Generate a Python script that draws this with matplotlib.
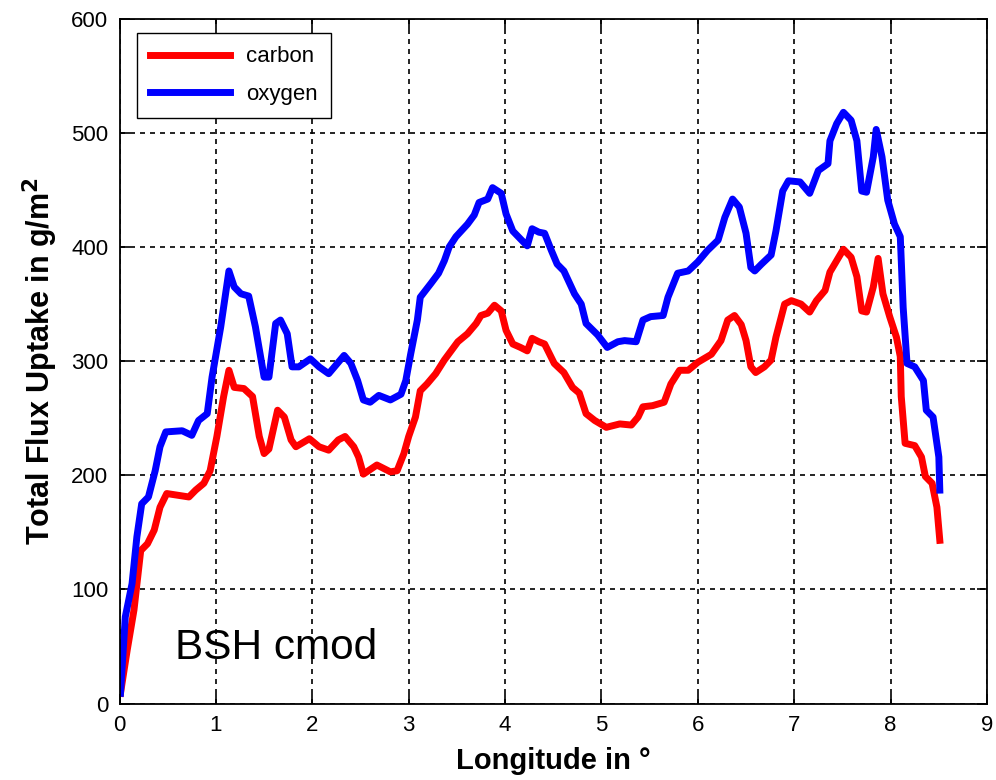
import matplotlib
matplotlib.use("Agg")
import matplotlib.pyplot as plt

plt.rcParams["font.family"] = ["Liberation Sans", "DejaVu Sans"]

# flux uptake along the profile, g/m^2 vs longitude in degrees
carbon_lon = [0.01, 0.08, 0.15, 0.22, 0.29, 0.36, 0.42, 0.49, 0.72, 0.79, 0.875, 0.94,
              1.01, 1.08, 1.135, 1.19, 1.29, 1.38, 1.45, 1.50, 1.55, 1.64, 1.71, 1.78,
              1.83, 1.97, 2.07, 2.17, 2.27, 2.34, 2.43, 2.48, 2.53, 2.67, 2.81, 2.88,
              2.95, 3.00, 3.07, 3.12, 3.19, 3.28, 3.37, 3.44, 3.51, 3.61, 3.70, 3.75,
              3.82, 3.89, 3.96, 4.01, 4.08, 4.16, 4.23, 4.28, 4.35, 4.41, 4.51, 4.61,
              4.70, 4.77, 4.84, 4.93, 5.05, 5.19, 5.31, 5.38, 5.43, 5.53, 5.65, 5.72,
              5.81, 5.90, 6.00, 6.14, 6.24, 6.31, 6.38, 6.45, 6.50, 6.55, 6.60, 6.69,
              6.76, 6.81, 6.90, 6.97, 7.07, 7.16, 7.23, 7.32, 7.37, 7.44, 7.51, 7.59,
              7.65, 7.70, 7.75, 7.82, 7.87, 7.92, 7.99, 8.06, 8.10, 8.11, 8.15, 8.25,
              8.32, 8.36, 8.43, 8.48, 8.51]
carbon_flux = [9, 47, 82, 134, 140, 152, 172, 184, 181, 187, 193, 204,
               234, 269, 292, 277, 276, 269, 234, 219, 223, 257, 251, 231,
               225, 232, 225, 222, 231, 234, 225, 216, 201, 209, 203, 204,
               219, 234, 251, 274, 280, 289, 301, 309, 317, 324, 333, 340,
               342, 349, 344, 327, 315, 312, 309, 320, 317, 315, 298, 290,
               277, 272, 254, 248, 242, 245, 244, 251, 260, 261, 264, 280,
               292, 292, 299, 306, 318, 336, 340, 332, 318, 295, 290, 295,
               301, 321, 350, 353, 350, 343, 353, 362, 378, 388, 398, 391,
               374, 344, 343, 365, 390, 359, 339, 321, 304, 269, 228, 226,
               216, 199, 193, 172, 143]

oxygen_lon = [0.01, 0.06, 0.13, 0.18, 0.23, 0.30, 0.37, 0.42, 0.48, 0.65, 0.75, 0.82,
              0.91, 0.96, 1.05, 1.135, 1.19, 1.26, 1.34, 1.41, 1.50, 1.55, 1.62, 1.67,
              1.74, 1.79, 1.86, 1.98, 2.07, 2.17, 2.26, 2.33, 2.40, 2.47, 2.53, 2.60,
              2.69, 2.81, 2.92, 2.97, 3.02, 3.09, 3.12, 3.23, 3.31, 3.37, 3.42, 3.49,
              3.61, 3.68, 3.73, 3.82, 3.87, 3.96, 4.01, 4.08, 4.16, 4.23, 4.28, 4.35,
              4.41, 4.48, 4.54, 4.61, 4.72, 4.79, 4.84, 4.96, 5.06, 5.17, 5.24, 5.36,
              5.43, 5.51, 5.64, 5.69, 5.79, 5.90, 6.00, 6.10, 6.21, 6.28, 6.36, 6.43,
              6.50, 6.55, 6.59, 6.66, 6.76, 6.81, 6.88, 6.94, 7.06, 7.16, 7.25, 7.35,
              7.37, 7.44, 7.51, 7.59, 7.65, 7.70, 7.75, 7.82, 7.85, 7.91, 7.97, 8.04,
              8.10, 8.13, 8.17, 8.25, 8.34, 8.37, 8.44, 8.50, 8.51]
oxygen_flux = [9, 76, 105, 146, 175, 181, 204, 225, 238, 239, 235, 248,
               254, 286, 330, 379, 365, 359, 357, 330, 286, 286, 333, 336,
               324, 295, 295, 302, 295, 289, 298, 305, 298, 283, 266, 264,
               270, 266, 271, 283, 306, 336, 356, 368, 377, 388, 400, 409,
               420, 428, 439, 442, 452, 447, 429, 414, 407, 401, 416, 413,
               412, 397, 385, 379, 359, 350, 333, 323, 312, 317, 318, 317,
               336, 339, 340, 356, 377, 379, 387, 397, 406, 426, 442, 435,
               412, 382, 379, 385, 393, 414, 449, 458, 457, 447, 467, 473,
               493, 508, 518, 511, 493, 449, 448, 479, 503, 479, 441, 420,
               409, 347, 298, 295, 283, 257, 251, 216, 187]

x_ticks = list(range(0, 10))
y_ticks = list(range(0, 700, 100))

fig = plt.figure(figsize=(9.96, 7.8), dpi=100)
ax = fig.add_axes([0.12, 0.098, 0.871, 0.878])

ax.plot(carbon_lon, carbon_flux, color="#ff0000", lw=5, label="carbon",
        solid_joinstyle="round")
ax.plot(oxygen_lon, oxygen_flux, color="#0000ff", lw=5, label="oxygen",
        solid_joinstyle="round")

ax.set_xlim(0, 9)
ax.set_ylim(0, 600)
ax.set_xticks(x_ticks)
ax.set_yticks(y_ticks)
ax.grid(True, color="black", linestyle=(0, (3, 3)), linewidth=1.2)
ax.tick_params(direction="in", length=7, width=1.2, top=True, right=True,
               labelsize=16, pad=8)
for side in ax.spines.values():
    side.set_linewidth(1.3)

ax.set_xlabel("Longitude in °", fontsize=21, fontweight="bold", labelpad=8)
ax.set_ylabel("Total Flux Uptake in g/m$^\\mathbf{2}$", fontsize=22,
              fontweight="bold", labelpad=8)

ax.text(0.58, 49, "BSH cmod", fontsize=30.5, va="center", ha="left")

leg = ax.legend(loc="upper left", fontsize=16, fancybox=False, framealpha=1,
                edgecolor="black", handlelength=3.6, handletextpad=0.7,
                borderpad=0.6, labelspacing=0.75, borderaxespad=0,
                bbox_to_anchor=(0.02, 0.979))
leg.get_frame().set_linewidth(1.0)

fig.savefig("out.png", dpi=100)
